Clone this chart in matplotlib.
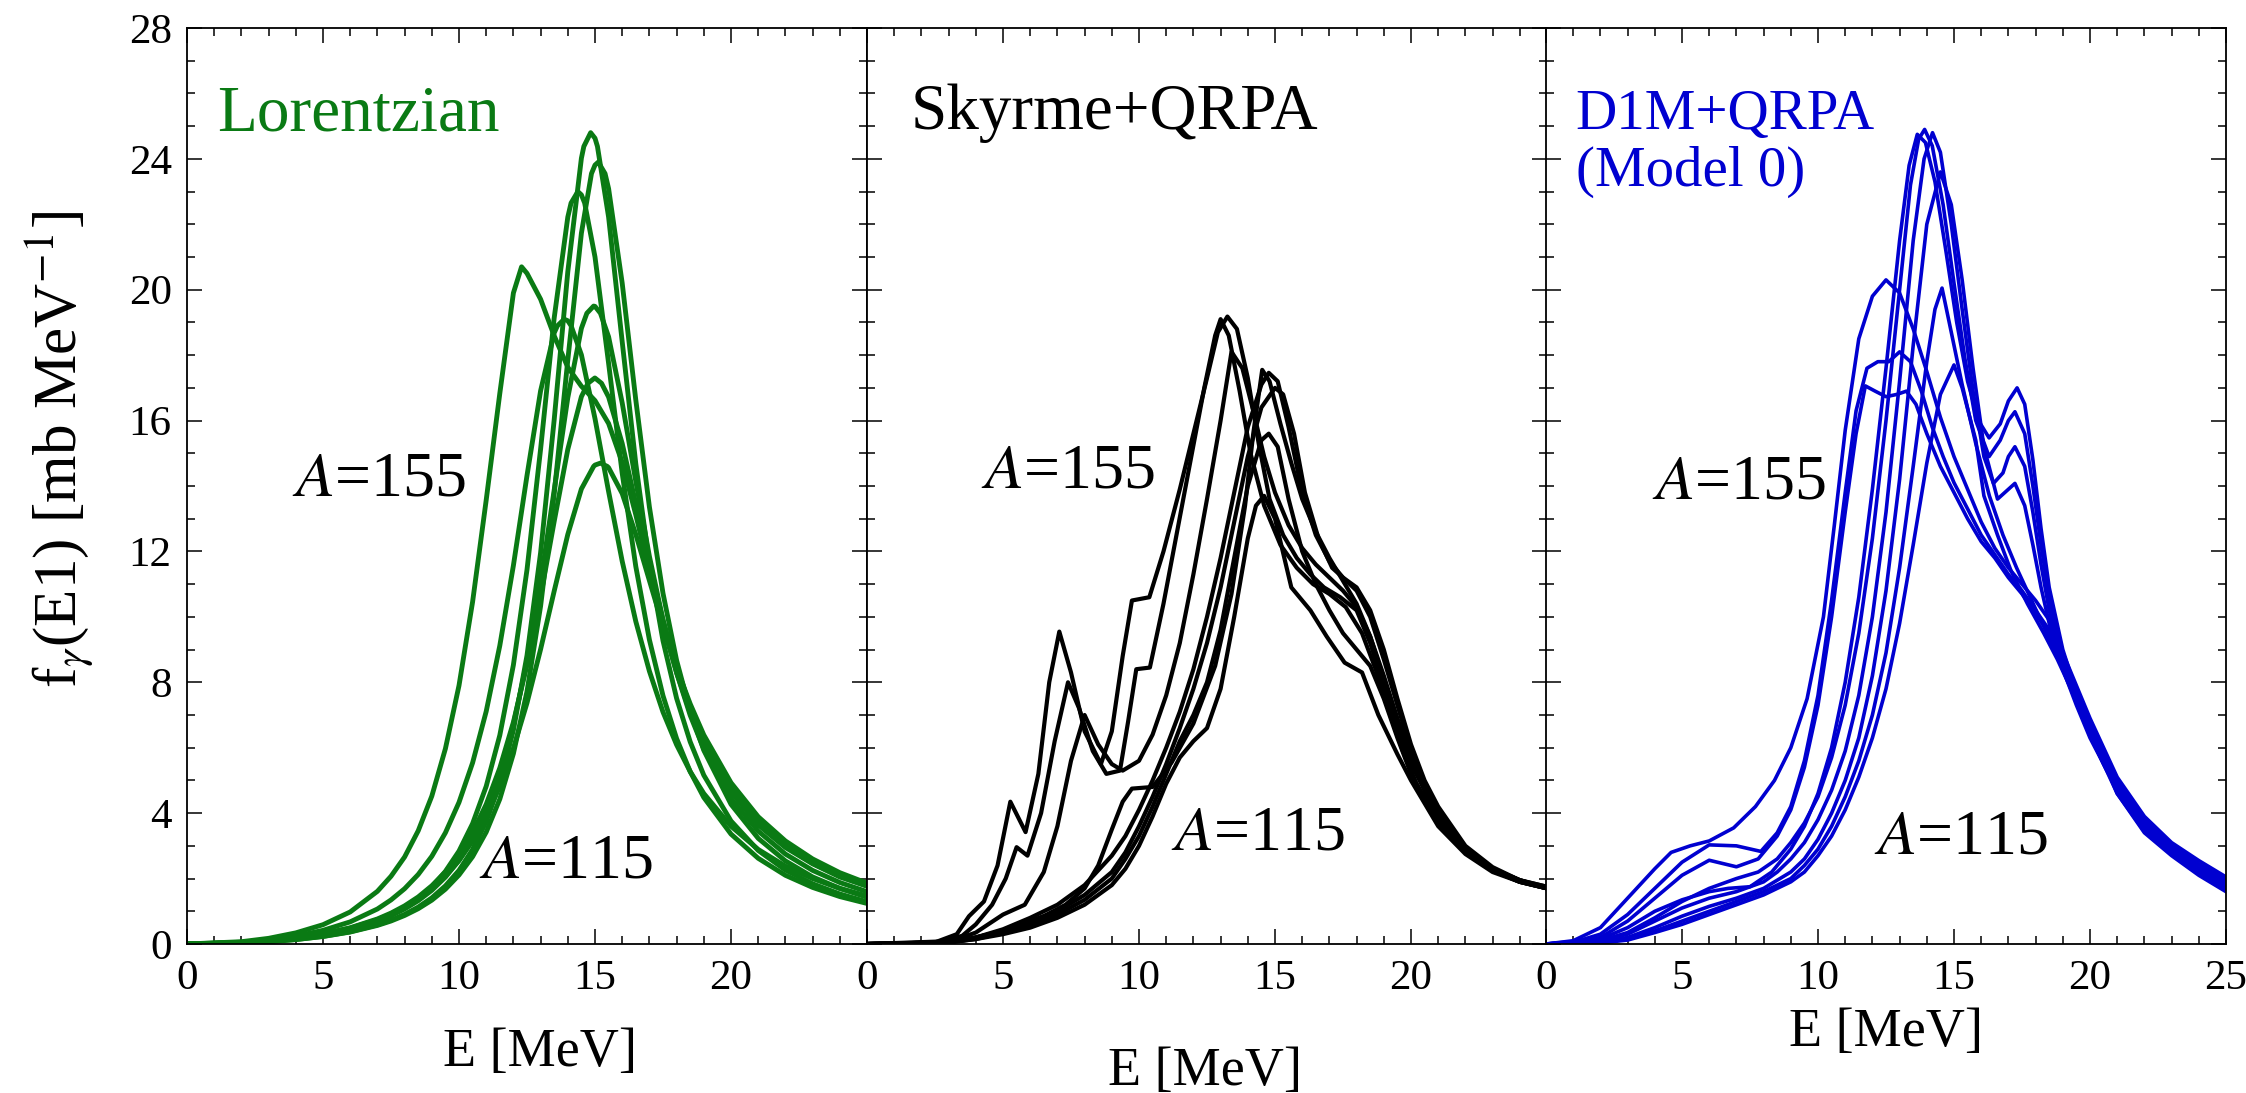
import matplotlib
matplotlib.use("Agg")
import matplotlib.pyplot as plt
from matplotlib.ticker import MultipleLocator, FixedLocator

plt.rcParams['font.family'] = ['Liberation Serif', 'DejaVu Serif']
plt.rcParams['mathtext.fontset'] = 'stix'

# ---------------- Lorentzian panel ----------------
lor_E = [0, 2, 3, 4, 5, 6, 7, 7.5, 8, 8.5, 9, 9.5, 10, 10.5, 11, 11.5, 12, 12.5, 13, 13.5, 14, 14.5,
         15, 15.5, 16, 16.5, 17, 17.5, 18, 18.5, 19, 20, 21, 22, 23, 24, 25]
lor_c1 = [0, 0.031, 0.072, 0.137, 0.233, 0.374, 0.585, 0.727, 0.905, 1.128, 1.41, 1.777, 2.25, 2.89, 3.74, 4.91,
          6.54, 8.82, 11.96, 16.03, 20.55, 24.02, 24.63, 22.22, 18.41, 14.68, 11.62, 9.27, 7.51, 6.18, 5.16,
          3.76, 2.86, 2.26, 1.84, 1.53, 1.29]
lor_c2 = [0, 0.030, 0.071, 0.135, 0.229, 0.366, 0.568, 0.703, 0.872, 1.079, 1.34, 1.676, 2.11, 2.67, 3.42, 4.43,
          5.82, 7.72, 10.33, 13.76, 17.85, 21.73, 23.81, 23.09, 20.20, 16.63, 13.36, 10.72, 8.67, 7.12, 5.92,
          4.27, 3.23, 2.54, 2.05, 1.70, 1.43]
lor_c3 = [0, 0.036, 0.085, 0.161, 0.276, 0.447, 0.705, 0.882, 1.104, 1.386, 1.75, 2.22, 2.84, 3.68, 4.82, 6.38,
          8.53, 11.44, 15.13, 19.14, 22.22, 22.90, 21.0, 17.75, 14.39, 11.54, 9.30, 7.59, 6.28, 5.27, 4.48,
          3.36, 2.62, 2.10, 1.73, 1.45, 1.24]
lor_c4 = [0, 0.07, 0.173, 0.34, 0.59, 0.98, 1.61, 2.07, 2.66, 3.46, 4.52, 5.97, 7.90, 10.46, 13.57, 16.83,
          19.9, 20.5, 19.71, 18.59, 17.63, 17.05, 16.61, 15.91, 14.72, 13.12, 11.38, 9.72, 8.29, 7.08, 6.10,
          4.65, 3.64, 2.95, 2.45, 2.05, 1.77]
lor_c5 = [0, 0.054, 0.127, 0.242, 0.417, 0.677, 1.07, 1.347, 1.69, 2.125, 2.68, 3.40, 4.33, 5.54, 7.11, 9.12,
          11.57, 14.32, 16.91, 18.68, 19.05, 18.01, 16.06, 13.83, 11.70, 9.86, 8.34, 7.09, 6.09, 5.27, 4.60,
          3.60, 2.89, 2.38, 2.00, 1.70, 1.47]
lor_c6 = [0, 0.037, 0.087, 0.166, 0.281, 0.449, 0.697, 0.864, 1.07, 1.323, 1.64, 2.044, 2.56, 3.22, 4.09, 5.22,
          6.71, 8.64, 11.06, 13.88, 16.70, 18.82, 19.49, 18.56, 16.54, 14.14, 11.85, 9.90, 8.29, 6.99, 5.96,
          4.45, 3.45, 2.75, 2.25, 1.88, 1.60]
lor_c7 = [0, 0.041, 0.097, 0.183, 0.311, 0.496, 0.765, 0.945, 1.166, 1.438, 1.78, 2.198, 2.73, 3.41, 4.27, 5.38,
          6.78, 8.53, 10.62, 12.92, 15.12, 16.73, 17.30, 16.72, 15.30, 13.46, 11.61, 9.91, 8.46, 7.25, 6.26,
          4.76, 3.73, 3.00, 2.47, 2.07, 1.77]
lor_c8 = [0, 0.041, 0.096, 0.181, 0.306, 0.485, 0.743, 0.914, 1.12, 1.375, 1.69, 2.07, 2.55, 3.15, 3.89, 4.82,
          5.98, 7.37, 9.01, 10.79, 12.52, 13.91, 14.64, 14.56, 13.77, 12.52, 11.11, 9.71, 8.44, 7.34, 6.39,
          4.93, 3.89, 3.15, 2.60, 2.18, 1.86]
lor_curves = [lor_c1, lor_c2, lor_c3, lor_c4, lor_c5, lor_c6, lor_c7, lor_c8]
# extra points read around each maximum
lor_peaks = [[(14.59, 24.38), (14.84, 24.8), (15.09, 24.38)],
             [(14.87, 23.55), (15.12, 23.9), (15.37, 23.55)],
             [(14.12, 22.65), (14.37, 23.0), (14.62, 22.65)],
             [(12.3, 20.7)],
             [(13.62, 18.9), (13.87, 19.1), (14.12, 18.9)],
             [(14.7, 19.28), (14.95, 19.5), (15.2, 19.28)],
             [(14.74, 17.14), (14.99, 17.3), (15.24, 17.14)],
             [(14.95, 14.6), (15.2, 14.7), (15.45, 14.6)]]

# ---------------- Skyrme+QRPA panel ----------------
sky_e1 = [0, 2.5, 3.3, 3.75, 4.3, 4.8, 5.27, 5.83, 6.3, 6.7, 7.07, 7.5, 8.0, 8.6, 9.0, 9.4, 9.74, 10.38, 10.9,
          11.5, 12.0, 12.5, 12.9, 13.25, 13.6, 14.0, 14.4, 14.8, 15.3, 15.8, 16.3, 16.8, 17.4, 18.0, 18.5, 19.0,
          19.5, 20, 21, 22, 23, 24, 25]
sky_f1 = [0, 0.05, 0.3, 0.85, 1.3, 2.4, 4.35, 3.42, 5.2, 8.0, 9.55, 8.3, 6.5, 5.5, 6.5, 8.8, 10.5, 10.6, 12.0,
          13.9, 15.6, 17.3, 18.7, 19.18, 18.8, 17.3, 15.3, 13.6, 12.5, 11.8, 11.3, 10.9, 10.6, 10.2, 9.2, 7.9,
          6.6, 5.5, 3.9, 2.9, 2.3, 1.95, 1.7]
sky_e2 = [0, 2.5, 3.5, 4.0, 4.6, 5.1, 5.5, 5.9, 6.4, 6.9, 7.39, 7.8, 8.3, 8.8, 9.3, 9.6, 9.9, 10.4, 10.9, 11.4,
          11.9, 12.4, 12.8, 13.0, 13.3, 13.7, 14.1, 14.6, 15.2, 15.8, 16.4, 17.0, 17.6, 18.2, 18.7, 19.2, 19.7,
          20.2, 21, 22, 23, 24, 25]
sky_f2 = [0, 0.03, 0.25, 0.6, 1.2, 2.0, 2.96, 2.7, 4.0, 6.2, 8.0, 7.2, 5.9, 5.2, 5.3, 6.8, 8.4, 8.45, 10.4, 12.6,
          14.8, 17.0, 18.6, 19.1, 18.6, 16.9, 15.0, 13.4, 12.2, 11.5, 11.0, 10.7, 10.3, 9.5, 8.4, 7.1, 5.9, 4.9,
          3.8, 2.8, 2.25, 1.9, 1.7]
sky_e3 = [0, 3, 4, 5, 5.8, 6.5, 7.0, 7.5, 8.0, 8.5, 9.0, 9.4, 10.0, 10.5, 11, 11.5, 12, 12.5, 13, 13.4, 13.8,
          14.2, 14.6, 15, 15.5, 16, 16.5, 17, 17.5, 18, 18.5, 19, 19.5, 20, 21, 22, 23, 24, 25]
sky_f3 = [0, 0.05, 0.35, 0.9, 1.2, 2.2, 3.6, 5.6, 7.0, 6.1, 5.5, 5.3, 5.6, 6.4, 7.6, 9.2, 11.3, 13.6, 16.0,
          18.1, 17.6, 16.3, 14.9, 13.8, 12.8, 12.1, 11.6, 11.2, 10.8, 10.3, 9.4, 8.2, 6.9, 5.7, 4.0, 2.95, 2.3,
          1.95, 1.7]
sky_e4 = [0, 3.5, 4.5, 5.5, 6.5, 7.3, 8.0, 8.5, 9.0, 9.4, 9.74, 10.5, 11.2, 12.0, 12.8, 13.4, 13.9, 14.2, 14.53,
          14.8, 15.2, 15.6, 16.0, 16.5, 17, 17.5, 18, 18.5, 19, 19.5, 20, 21, 22, 23, 24, 25]
sky_f4 = [0, 0.1, 0.3, 0.55, 0.85, 1.2, 1.7, 2.4, 3.5, 4.35, 4.75, 4.8, 5.55, 6.74, 8.5, 10.7, 13.4, 15.6, 17.55,
          17.2, 15.9, 14.7, 13.6, 12.6, 11.8, 11.1, 10.4, 9.4, 8.1, 6.8, 5.6, 3.9, 2.85, 2.25, 1.9, 1.7]
sky_e5 = [0, 3, 4, 5, 6, 7, 8, 9, 9.5, 10, 10.5, 11, 11.5, 12, 12.5, 13, 13.5, 14, 14.5, 14.77, 15.1, 15.5, 16,
          16.5, 17, 17.5, 18, 18.5, 19, 19.5, 20, 20.5, 21, 22, 23, 24, 25]
sky_f5 = [0, 0.05, 0.2, 0.45, 0.8, 1.2, 1.8, 2.7, 3.3, 4.1, 5.0, 6.0, 7.1, 8.4, 10.0, 11.8, 13.8, 15.8, 17.1,
          17.46, 17.2, 15.8, 13.8, 12.5, 11.7, 11.2, 10.8, 10.0, 8.7, 7.3, 5.9, 4.9, 4.1, 2.95, 2.3, 1.95, 1.75]
sky_e6 = [0, 3, 4, 5, 6, 7, 8, 9, 9.5, 10, 10.5, 11, 11.5, 12, 12.5, 13, 13.5, 14, 14.5, 15.0, 15.3, 15.7, 16.1,
          16.6, 17.1, 17.5, 18, 18.5, 19, 19.5, 20, 20.5, 21, 22, 23, 24, 25]
sky_f6 = [0, 0.05, 0.2, 0.4, 0.7, 1.0, 1.5, 2.2, 2.8, 3.6, 4.5, 5.5, 6.6, 7.8, 9.2, 10.9, 12.9, 14.9, 16.4, 17.0,
          16.8, 15.6, 13.8, 12.4, 11.5, 11.2, 10.9, 10.2, 9.0, 7.5, 6.1, 5.0, 4.2, 3.0, 2.35, 1.95, 1.75]
sky_e7 = [0, 3, 4, 5, 6, 7, 8, 9, 9.5, 10, 10.5, 11, 11.5, 12, 12.5, 13, 13.5, 14, 14.5, 14.77, 15.1, 15.5, 16,
          16.5, 17, 17.5, 18, 18.5, 19, 19.5, 20, 21, 22, 23, 24, 25]
sky_f7 = [0, 0.05, 0.15, 0.35, 0.6, 0.9, 1.35, 2.0, 2.6, 3.3, 4.2, 5.2, 6.2, 7.0, 8.0, 9.6, 11.8, 14.0, 15.4,
          15.6, 15.2, 13.6, 12.0, 11.0, 10.2, 9.5, 9.0, 8.5, 7.5, 6.3, 5.2, 3.7, 2.8, 2.25, 1.9, 1.7]
sky_e8 = [0, 3, 4, 5, 6, 7, 8, 9, 9.5, 10, 10.5, 11, 11.5, 12, 12.5, 13, 13.5, 14, 14.3, 14.6, 15, 15.6, 16.3,
          16.9, 17.56, 18.2, 18.8, 19.5, 20, 21, 22, 23, 24, 25]
sky_f8 = [0, 0.05, 0.15, 0.3, 0.5, 0.8, 1.2, 1.8, 2.3, 3.0, 3.9, 4.9, 5.7, 6.2, 6.6, 7.8, 10.0, 12.4, 13.4, 13.7,
          13.0, 10.9, 10.2, 9.4, 8.6, 8.3, 7.0, 5.8, 5.0, 3.6, 2.75, 2.2, 1.9, 1.7]
sky_curves = [(sky_e1, sky_f1), (sky_e2, sky_f2), (sky_e3, sky_f3), (sky_e4, sky_f4),
              (sky_e5, sky_f5), (sky_e6, sky_f6), (sky_e7, sky_f7), (sky_e8, sky_f8)]

# ---------------- D1M+QRPA panel ----------------
d1m_e1 = [0, 1, 2, 3, 4, 4.6, 5.3, 6.0, 6.9, 7.7, 8.4, 9.0, 9.6, 10.2, 10.6, 11.0, 11.5, 12.0, 12.5, 13.0, 13.5,
          14.0, 14.5, 15.0, 15.5, 16.0, 16.5, 17.0, 17.5, 18.0, 18.5, 19, 19.5, 20, 21, 22, 23, 24, 25]
d1m_f1 = [0, 0.1, 0.5, 1.4, 2.3, 2.8, 3.0, 3.15, 3.55, 4.2, 5.0, 6.0, 7.5, 10.0, 12.8, 15.7, 18.5, 19.8, 20.3,
          19.9, 18.8, 17.5, 16.1, 14.9, 13.9, 12.9, 12.1, 11.5, 11.0, 10.5, 9.9, 8.9, 7.9, 6.9, 5.1, 3.9, 3.1,
          2.55, 2.05]
d1m_e2 = [0, 1, 2, 3, 4, 5, 6.0, 7.0, 7.9, 8.5, 9.0, 9.5, 10.0, 10.5, 11.0, 11.4, 11.8, 12.2, 12.6, 13.0, 13.4,
          13.8, 14.2, 14.6, 15.0, 15.5, 16, 16.5, 17, 17.5, 18, 18.5, 19, 19.5, 20, 21, 22, 23, 24, 25]
d1m_f2 = [0, 0.05, 0.3, 0.9, 1.7, 2.5, 3.03, 3.0, 2.83, 3.4, 4.2, 5.6, 7.6, 10.5, 13.8, 16.3, 17.6, 17.8, 17.8,
          18.1, 17.8, 16.9, 15.8, 14.9, 14.1, 13.3, 12.5, 11.9, 11.3, 10.8, 10.2, 9.6, 8.8, 7.8, 6.8, 5.0, 3.8,
          3.0, 2.45, 1.95]
d1m_e3 = [0, 1, 2, 3, 4, 5, 6.0, 7.0, 7.8, 8.5, 9.0, 9.5, 10.0, 10.5, 11.0, 11.4, 11.74, 12.1, 12.5, 12.9,
          13.25, 13.6, 14.0, 14.5, 15, 15.5, 16, 16.5, 17, 17.5, 18, 18.5, 19, 19.5, 20, 21, 22, 23, 24, 25]
d1m_f3 = [0, 0.03, 0.2, 0.7, 1.4, 2.1, 2.56, 2.36, 2.6, 3.3, 4.1, 5.4, 7.3, 10.0, 13.2, 15.6, 17.06, 16.9,
          16.73, 16.8, 16.9, 16.5, 15.6, 14.6, 13.8, 13.0, 12.3, 11.8, 11.2, 10.7, 10.1, 9.5, 8.7, 7.7, 6.7, 4.9,
          3.7, 2.95, 2.4, 1.9]
d1m_e4 = [0, 2, 3, 4, 5, 6, 6.7, 7.5, 8.3, 9.0, 9.5, 10.0, 10.5, 11.0, 11.5, 12.0, 12.5, 13.0, 13.35, 13.65,
          13.95, 14.3, 14.7, 15.1, 15.5, 15.9, 16.29, 16.7, 17.0, 17.32, 17.6, 17.9, 18.2, 18.5, 19, 19.5, 20,
          20.5, 21, 22, 23, 24, 25]
d1m_f4 = [0, 0.15, 0.5, 1.0, 1.35, 1.6, 1.7, 1.75, 2.2, 2.9, 3.6, 4.6, 6.0, 8.0, 10.6, 13.9, 17.6, 21.5, 23.8,
          24.75, 24.5, 23.3, 21.2, 19.0, 17.2, 16.0, 15.47, 15.9, 16.6, 17.0, 16.5, 14.8, 12.7, 10.9, 9.0, 7.7,
          6.6, 5.6, 4.6, 3.4, 2.7, 2.1, 1.6]
d1m_e5 = [0, 2, 3, 4, 5, 6, 7, 7.8, 8.5, 9.0, 9.5, 10.0, 10.5, 11.0, 11.5, 12.0, 12.5, 13.0, 13.4, 13.7, 13.92,
          14.2, 14.6, 15.0, 15.4, 15.8, 16.29, 16.7, 17.0, 17.24, 17.6, 17.9, 18.2, 18.5, 19, 19.5, 20, 20.5,
          21, 22, 23, 24, 25]
d1m_f5 = [0, 0.1, 0.35, 0.8, 1.3, 1.7, 2.0, 2.2, 2.6, 3.1, 3.7, 4.5, 5.7, 7.3, 9.5, 12.4, 16.0, 20.0, 23.2, 24.6,
          24.9, 24.4, 22.6, 20.2, 17.9, 16.0, 14.9, 15.4, 16.0, 16.27, 15.6, 14.0, 12.2, 10.6, 8.8, 7.5, 6.4,
          5.5, 4.6, 3.45, 2.75, 2.2, 1.65]
d1m_e6 = [0, 2, 3, 4, 5, 6, 7, 8, 8.5, 9, 9.5, 10, 10.5, 11, 11.5, 12, 12.5, 13, 13.5, 13.9, 14.21, 14.5, 14.9,
          15.3, 15.7, 16.1, 16.45, 16.8, 17.0, 17.24, 17.6, 17.9, 18.2, 18.5, 19, 19.5, 20, 20.5, 21, 22, 23,
          24, 25]
d1m_f6 = [0, 0.08, 0.3, 0.7, 1.1, 1.4, 1.6, 1.9, 2.2, 2.6, 3.1, 3.8, 4.7, 5.9, 7.6, 10.0, 13.2, 17.2, 21.5,
          24.0, 24.8, 24.2, 22.0, 19.4, 16.9, 14.9, 14.08, 14.4, 14.9, 15.2, 14.6, 13.2, 11.6, 10.2, 8.6, 7.4,
          6.4, 5.5, 4.7, 3.55, 2.85, 2.25, 1.7]
d1m_e7 = [0, 2, 3, 4, 5, 6, 7, 8, 9, 9.5, 10, 10.5, 11, 11.5, 12, 12.5, 13, 13.5, 14, 14.5, 14.9, 15.3, 15.7,
          16.1, 16.6, 17.0, 17.24, 17.6, 17.9, 18.2, 18.5, 19, 19.5, 20, 20.5, 21, 22, 23, 24, 25]
d1m_f7 = [0, 0.05, 0.2, 0.5, 0.85, 1.15, 1.4, 1.7, 2.2, 2.6, 3.2, 4.0, 5.0, 6.3, 8.2, 10.8, 14.2, 18.3, 22.0,
          23.6, 22.6, 20.3, 17.6, 15.2, 13.6, 13.9, 14.08, 13.4, 12.2, 10.9, 9.8, 8.4, 7.3, 6.3, 5.5, 4.7, 3.6,
          2.9, 2.3, 1.75]
d1m_e8 = [0, 2, 3, 4, 5, 6, 7, 8, 9, 9.5, 10, 10.5, 11, 11.5, 12, 12.5, 13, 13.5, 14, 14.3, 14.56, 14.9, 15.3,
          15.8, 16.3, 16.8, 17.3, 17.8, 18.3, 18.8, 19.3, 19.8, 20.3, 21, 22, 23, 24, 25]
d1m_f8 = [0, 0.04, 0.15, 0.4, 0.7, 1.0, 1.3, 1.6, 2.0, 2.4, 2.9, 3.6, 4.5, 5.6, 7.0, 8.9, 11.5, 14.6, 17.8, 19.4,
          20.05, 18.7, 17.1, 15.3, 13.7, 12.5, 11.5, 10.6, 9.7, 8.8, 7.8, 6.9, 6.0, 4.8, 3.5, 2.8, 2.2, 1.7]
d1m_e9 = [0, 2, 3, 4, 5, 6, 7, 8, 9, 9.5, 10, 10.5, 11, 11.5, 12, 12.5, 13, 13.5, 14, 14.5, 15.0, 15.3, 15.8,
          16.1, 16.6, 17.1, 17.7, 18.3, 18.8, 19.3, 19.8, 20.3, 21, 22, 23, 24, 25]
d1m_f9 = [0, 0.03, 0.12, 0.35, 0.6, 0.9, 1.2, 1.5, 1.9, 2.2, 2.7, 3.3, 4.1, 5.1, 6.3, 7.8, 9.8, 12.2, 14.7, 16.8,
          17.7, 17.0, 15.4, 13.7, 12.5, 11.4, 10.4, 9.5, 8.7, 7.8, 6.9, 6.0, 4.9, 3.6, 2.9, 2.35, 1.8]
d1m_curves = [(d1m_e1, d1m_f1), (d1m_e2, d1m_f2), (d1m_e3, d1m_f3), (d1m_e4, d1m_f4), (d1m_e5, d1m_f5),
              (d1m_e6, d1m_f6), (d1m_e7, d1m_f7), (d1m_e8, d1m_f8), (d1m_e9, d1m_f9)]

green = '#0a7a14'
blue = '#0000d0'

W, H = 2246, 1093
fig = plt.figure(figsize=(W / 100, H / 100), dpi=100)
lefts = [187, 867, 1546]
axes = [fig.add_axes([l / W, 149 / H, 680 / W, 916 / H]) for l in lefts]

# Lorentzian curves: common grid plus the points read around each maximum
ax = axes[0]
for vals, extra in zip(lor_curves, lor_peaks):
    pts = sorted(list(zip(lor_E, vals)) + extra)
    ax.plot([p[0] for p in pts], [p[1] for p in pts], color=green, lw=3.5,
            solid_joinstyle='round', solid_capstyle='round')

for e, f in sky_curves:
    axes[1].plot(e, f, color='black', lw=3.0, solid_joinstyle='round')
for e, f in d1m_curves:
    axes[2].plot(e, f, color=blue, lw=2.6, solid_joinstyle='round')

xt = [[0, 5, 10, 15, 20], [0, 5, 10, 15, 20], [0, 5, 10, 15, 20, 25]]
xl_y = [-0.119, -0.139, -0.097]
xl_x = [0.519, 0.497, 0.50]
for i, ax in enumerate(axes):
    ax.set_xlim(0, 25)
    ax.set_ylim(0, 28)
    ax.xaxis.set_major_locator(FixedLocator(xt[i]))
    ax.xaxis.set_minor_locator(MultipleLocator(1))
    ax.yaxis.set_major_locator(MultipleLocator(4))
    ax.yaxis.set_minor_locator(MultipleLocator(1))
    ax.tick_params(which='both', direction='in', top=True, right=True, width=1.1)
    ax.tick_params(which='major', length=11, labelsize=31, pad=11)
    ax.tick_params(which='minor', length=5.5)
    if i > 0:
        ax.tick_params(labelleft=False)
    for s in ax.spines.values():
        s.set_linewidth(1.3)
    ax.set_xlabel('E [MeV]', fontsize=39, va='center')
    ax.xaxis.set_label_coords(xl_x[i], xl_y[i])

# panel titles
axes[0].text(1.1, 24.88, 'Lorentzian', color=green, fontsize=47, va='baseline')
axes[1].text(1.6, 24.9, 'Skyrme+QRPA', color='black', fontsize=47, va='baseline')
axes[2].text(1.08, 24.9, 'D1M+QRPA', color=blue, fontsize=41, va='baseline')
axes[2].text(1.1, 23.17, '(Model 0)', color=blue, fontsize=41, va='baseline')

# mass labels
a155 = [(3.87, 13.72), (4.18, 13.96), (3.91, 13.63)]
a115 = [(10.75, 2.02), (11.18, 2.89), (12.05, 2.76)]
for ax, p, q in zip(axes, a155, a115):
    ax.text(p[0], p[1], r'$A$=155', fontsize=46, va='baseline')
    ax.text(q[0], q[1], r'$A$=115', fontsize=46, va='baseline')

fig.text(60 / W, 1 - 449 / H, r'f$_{\gamma}$(E1) [mb MeV$^{-1}$]', rotation=90,
         fontsize=44, ha='center', va='center')

fig.savefig('out.png', dpi=100)
